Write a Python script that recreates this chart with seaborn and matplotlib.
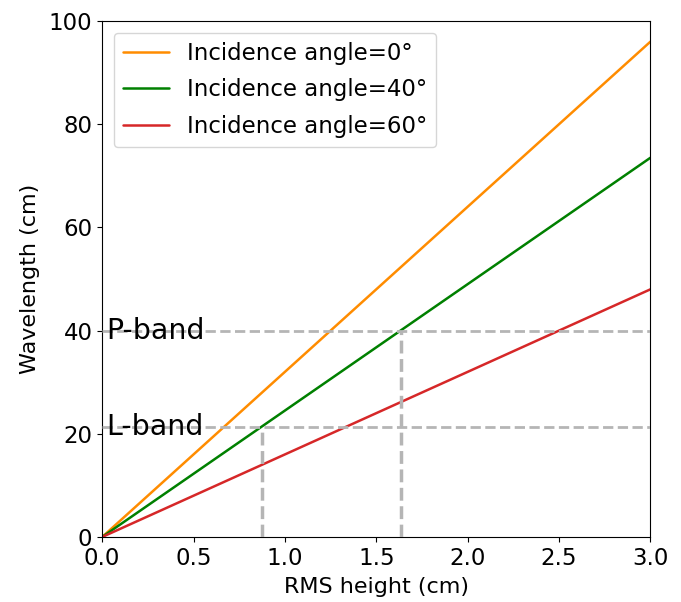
import matplotlib.pyplot as plt
import pandas as pd
import seaborn as sns

# RMS height (cm) and wavelength (cm)
rms_height = [0.0, 3.0]
wl_0 = [0.0, 96.0]
wl_40 = [0.0, 73.5]
wl_60 = [0.0, 48.0]
angle_labels = ["Incidence angle=0°", "Incidence angle=40°", "Incidence angle=60°"]

# bands: wavelength and where they meet the 40° line
band_names = ["L-band", "P-band"]
band_wl = [21.3, 40.0]
band_h = [0.875, 1.635]

sns.set_style("ticks", {"text.color": "black", "axes.labelcolor": "black",
                        "xtick.color": "black", "ytick.color": "black",
                        "axes.edgecolor": "black"})
plt.rcParams["font.family"] = ["DejaVu Sans"]

df = pd.DataFrame({
    "h": rms_height * 3,
    "wl": wl_0 + wl_40 + wl_60,
    "angle": [angle_labels[0]] * 2 + [angle_labels[1]] * 2 + [angle_labels[2]] * 2,
})

fig, ax = plt.subplots(figsize=(6.81, 6.02), dpi=100)
sns.lineplot(data=df, x="h", y="wl", hue="angle",
             palette=["darkorange", "green", "tab:red"], linewidth=1.8, ax=ax)

for name, wl, h in zip(band_names, band_wl, band_h):
    ax.axhline(wl, color="#b5b5b5", ls="--", lw=2, zorder=3)
    ax.plot([h, h], [0, wl], color="#b5b5b5", ls="--", lw=2.5, zorder=3)
    ax.text(0.02, wl, name, fontsize=20.5, va="center", ha="left", color="black", zorder=4)

ax.set_xlim(0, 3.0)
ax.set_ylim(0, 100)
ax.set_xlabel("RMS height (cm)", fontsize=16, labelpad=5)
ax.set_ylabel("Wavelength (cm)", fontsize=16, labelpad=6)
ax.tick_params(labelsize=16.5)
for s in ax.spines.values():
    s.set_visible(True)

ax.legend(loc="upper left", fontsize=16.5, title=None, labelspacing=0.6)

plt.subplots_adjust(left=0.15, right=0.955, top=0.965, bottom=0.108)
plt.savefig("out.png")
